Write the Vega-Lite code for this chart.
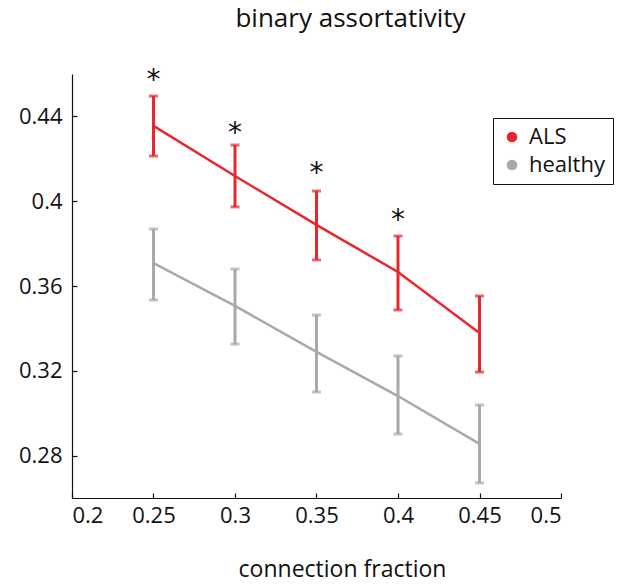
{
  "$schema": "https://vega.github.io/schema/vega-lite/v6.json",
  "autosize": "none",
  "padding": {"left": 72, "top": 74, "right": 79, "bottom": 88},
  "width": 489,
  "height": 424,
  "background": "white",
  "title": {"text": "binary assortativity", "font": "Open Sans", "fontSize": 26, "fontWeight": "normal", "color": "#111", "offset": 35, "dx": 34},
  "config": {
    "view": {"stroke": null},
    "font": "Open Sans",
    "axis": {"grid": false, "domainColor": "#111", "tickColor": "#111", "labelColor": "#111", "titleColor": "#111", "labelFont": "Open Sans", "titleFont": "Open Sans", "labelFontSize": 22, "titleFontSize": 23, "titleFontWeight": "normal", "tickSize": -5, "domainWidth": 1.2, "tickWidth": 1.2}
  },
  "datasets": {
    "stats": [
      {"fraction": 0.25, "group": "ALS", "mean": 0.4355, "lower": 0.4213, "upper": 0.4496},
      {"fraction": 0.30, "group": "ALS", "mean": 0.4119, "lower": 0.3973, "upper": 0.4265},
      {"fraction": 0.35, "group": "ALS", "mean": 0.3888, "lower": 0.3723, "upper": 0.4048},
      {"fraction": 0.40, "group": "ALS", "mean": 0.3666, "lower": 0.3487, "upper": 0.3836},
      {"fraction": 0.45, "group": "ALS", "mean": 0.3378, "lower": 0.3194, "upper": 0.3553},
      {"fraction": 0.25, "group": "healthy", "mean": 0.3708, "lower": 0.3534, "upper": 0.3869},
      {"fraction": 0.30, "group": "healthy", "mean": 0.3506, "lower": 0.3326, "upper": 0.368},
      {"fraction": 0.35, "group": "healthy", "mean": 0.3289, "lower": 0.31, "upper": 0.3463},
      {"fraction": 0.40, "group": "healthy", "mean": 0.3081, "lower": 0.2902, "upper": 0.327},
      {"fraction": 0.45, "group": "healthy", "mean": 0.2855, "lower": 0.2671, "upper": 0.3039}
    ],
    "stars": [
      {"fraction": 0.25, "pos": 0.4595},
      {"fraction": 0.30, "pos": 0.4345},
      {"fraction": 0.35, "pos": 0.4157},
      {"fraction": 0.40, "pos": 0.3935}
    ]
  },
  "layer": [
    {
      "data": {"name": "stats"},
      "mark": {"type": "point", "filled": true, "size": 0, "opacity": 1, "stroke": "#222", "strokeWidth": 1.2},
      "encoding": {
        "x": {"field": "fraction", "type": "quantitative", "scale": {"domain": [0.2, 0.5], "nice": false, "zero": false},
              "axis": {"values": [0.2, 0.25, 0.3, 0.35, 0.4, 0.45, 0.5], "format": "~g", "title": "connection fraction", "labelPadding": 12, "titlePadding": 32, "titleX": 270}},
        "y": {"field": "mean", "type": "quantitative", "scale": {"domain": [0.26, 0.46], "nice": false, "zero": false},
              "axis": {"values": [0.28, 0.32, 0.36, 0.4, 0.44], "format": "~g", "title": null, "labelPadding": 15}},
        "color": {"field": "group", "type": "nominal", "scale": {"domain": ["ALS", "healthy"], "range": ["#e8262c", "#a9a9a9"]},
          "legend": {"orient": "none", "legendX": 421, "legendY": 44, "title": null, "strokeColor": "#111", "fillColor": "white", "padding": 8,
            "labelFont": "Open Sans", "labelFontSize": 22, "labelColor": "#111", "symbolType": "circle", "symbolSize": 90, "symbolOpacity": 1, "symbolStrokeColor": "#222", "symbolStrokeWidth": 1.2, "rowPadding": 6, "labelOffset": 6,
            "encode": {"symbols": {"update": {"opacity": {"value": 1}, "fillOpacity": {"value": 1}, "stroke": {"value": "#222"}, "strokeWidth": {"value": 1.2}}}}}}
      }
    },
    {
      "data": {"name": "stats"},
      "mark": {"type": "rule", "strokeWidth": 3},
      "encoding": {
        "x": {"field": "fraction", "type": "quantitative"},
        "y": {"field": "lower", "type": "quantitative"},
        "y2": {"field": "upper"},
        "color": {"field": "group", "type": "nominal"}
      }
    },
    {
      "data": {"name": "stats"},
      "mark": {"type": "tick", "orient": "horizontal", "size": 9, "thickness": 3},
      "encoding": {
        "x": {"field": "fraction", "type": "quantitative"},
        "y": {"field": "upper", "type": "quantitative"},
        "color": {"field": "group", "type": "nominal"}
      }
    },
    {
      "data": {"name": "stats"},
      "mark": {"type": "tick", "orient": "horizontal", "size": 9, "thickness": 3},
      "encoding": {
        "x": {"field": "fraction", "type": "quantitative"},
        "y": {"field": "lower", "type": "quantitative"},
        "color": {"field": "group", "type": "nominal"}
      }
    },
    {
      "data": {"name": "stats"},
      "mark": {"type": "line", "strokeWidth": 2.5},
      "encoding": {
        "x": {"field": "fraction", "type": "quantitative"},
        "y": {"field": "mean", "type": "quantitative"},
        "color": {"field": "group", "type": "nominal"}
      }
    },
    {
      "data": {"name": "stars"},
      "mark": {"type": "text", "text": "*", "fontSize": 28, "font": "DejaVu Sans", "baseline": "middle", "dy": 6, "color": "#111"},
      "encoding": {
        "x": {"field": "fraction", "type": "quantitative"},
        "y": {"field": "pos", "type": "quantitative"}
      }
    }
  ]
}
